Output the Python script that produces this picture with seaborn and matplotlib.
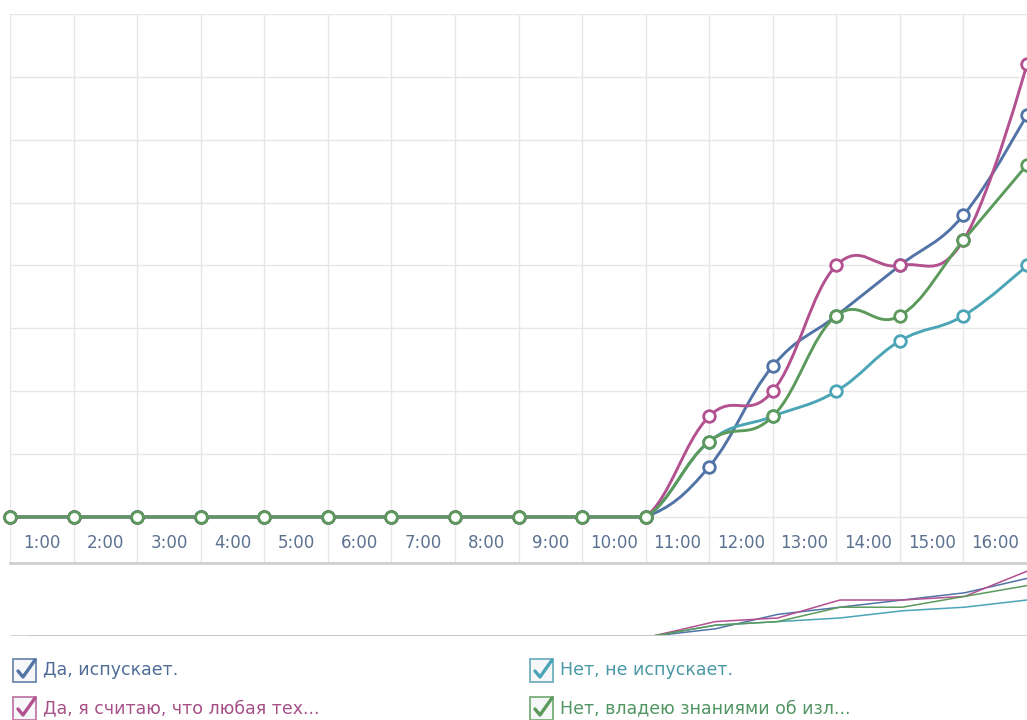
import numpy as np
import pandas as pd
import seaborn as sns
import matplotlib.pyplot as plt
from matplotlib.path import Path
from matplotlib.patches import PathPatch, Rectangle
from matplotlib.lines import Line2D

# data: hourly counts per answer
hours = list(range(17))
hour_labels = [f"{h}:00" for h in range(1, 17)]
series_names = ["Да, испускает.", "Нет, не испускает.",
                "Да, я считаю, что любая тех...", "Нет, владею знаниями об изл..."]
yes_emits = [0, 0, 0, 0, 0, 0, 0, 0, 0, 0, 0, 4, 12, 16, 20, 24, 32]
no_emits = [0, 0, 0, 0, 0, 0, 0, 0, 0, 0, 0, 6, 8, 10, 14, 16, 20]
yes_any_tech = [0, 0, 0, 0, 0, 0, 0, 0, 0, 0, 0, 8, 10, 20, 20, 22, 36]
no_knowledge = [0, 0, 0, 0, 0, 0, 0, 0, 0, 0, 0, 6, 8, 16, 16, 22, 28]

line_colors = ['#5173a6', '#4ba5b7', '#b25090', '#5c9a5c']
text_colors = ['#4f6c98', '#4a98a6', '#a65088', '#509562']
box_colors = ['#6d89b0', '#6fb0bf', '#bf78a5', '#78ae78']

W, H = 1027, 720


def box(l, t, r, b):
    return [l / W, 1 - b / H, (r - l) / W, (b - t) / H]


def spline_path(xs, ys, smoothing=1.5):
    """Bezier path through the points; control points kept inside the data range."""
    n = len(xs)
    lo, hi = min(ys), max(ys)
    left = [None] * n
    right = [None] * n
    d = smoothing + 1
    for i in range(1, n - 1):
        px, py = xs[i], ys[i]
        lx, ly = xs[i - 1], ys[i - 1]
        nx, ny = xs[i + 1], ys[i + 1]
        lcx = (smoothing * px + lx) / d
        lcy = (smoothing * py + ly) / d
        rcx = (smoothing * px + nx) / d
        rcy = (smoothing * py + ny) / d
        corr = (rcy - lcy) * (rcx - px) / (rcx - lcx) + py - rcy
        left[i] = (lcx, min(max(lcy + corr, lo), hi))
        right[i] = (rcx, min(max(rcy + corr, lo), hi))
    verts = [(xs[0], ys[0])]
    codes = [Path.MOVETO]
    for i in range(1, n):
        c1 = right[i - 1] or (xs[i - 1], ys[i - 1])
        c2 = left[i] or (xs[i], ys[i])
        verts += [c1, c2, (xs[i], ys[i])]
        codes += [Path.CURVE4] * 3
    return Path(verts, codes)


sns.set_style('white')
plt.rcParams['font.family'] = ['DejaVu Sans']

fig = plt.figure(figsize=(10.27, 7.2), dpi=100)
ax = fig.add_axes(box(10, 14, 1027, 563))
nav = fig.add_axes(box(10, 564, 1027, 636))

all_series = [yes_emits, no_emits, yes_any_tech, no_knowledge]

# main chart
ax.set_xlim(0.031, 15.94)
ax.set_ylim(-3.66, 40)
ax.set_xticks(hours)
ax.set_yticks(range(0, 41, 5))
ax.grid(True, color='#e6e6e6', lw=1)
ax.tick_params(length=0, labelleft=False, labelbottom=False)
for s in ['top', 'left', 'right']:
    ax.spines[s].set_visible(False)
ax.spines['bottom'].set_color('#cfcfcf')
ax.spines['bottom'].set_linewidth(2)

for i, (vals, col) in enumerate(zip(all_series, line_colors)):
    ax.add_patch(PathPatch(spline_path(hours, vals), facecolor='none',
                           edgecolor=col, lw=2.1, zorder=3 + i,
                           joinstyle='round', capstyle='round'))
    sns.scatterplot(x=hours, y=vals, ax=ax, s=70, color='white',
                    edgecolor=col, linewidth=2.0, zorder=10 + i,
                    clip_on=False, legend=False)

for k, lab in enumerate(hour_labels, start=1):
    ax.text(k - 0.5, -2.07, lab, ha='center', va='center',
            color='#5b7190', fontsize=12)

# navigator
nav.set_xlim(-0.316, 16.0)
nav.set_ylim(0, 40)
nav.axis('off')
for i, (vals, col) in enumerate(zip(all_series, line_colors)):
    nav.plot(hours, vals, color=col, lw=1.1, zorder=3 + i)
nav.axhline(0, color='#cfcfcf', lw=2, zorder=10)

# legend with check boxes
legend_pos = [(13, 670), (530, 670), (13, 708), (530, 708)]
for (x0, cy), name, tc, bc, lc in zip(legend_pos, series_names,
                                      text_colors, box_colors, line_colors):
    size = 23
    rect = Rectangle((x0 / W, 1 - (cy + size / 2) / H), size / W, size / H,
                     transform=fig.transFigure, facecolor='#f5f7f9',
                     edgecolor=bc, lw=1.3)
    fig.add_artist(rect)
    cx = [x0 + 5, x0 + 10, x0 + 22]
    cyy = [cy + 1, cy + 7, cy - 10]
    fig.add_artist(Line2D([c / W for c in cx], [1 - c / H for c in cyy],
                          transform=fig.transFigure, color=lc, lw=2.4,
                          solid_capstyle='round', solid_joinstyle='round'))
    fig.text((x0 + 30) / W, 1 - cy / H, name, va='center', ha='left',
             color=tc, fontsize=12.5)

fig.savefig('out.png', dpi=100)
